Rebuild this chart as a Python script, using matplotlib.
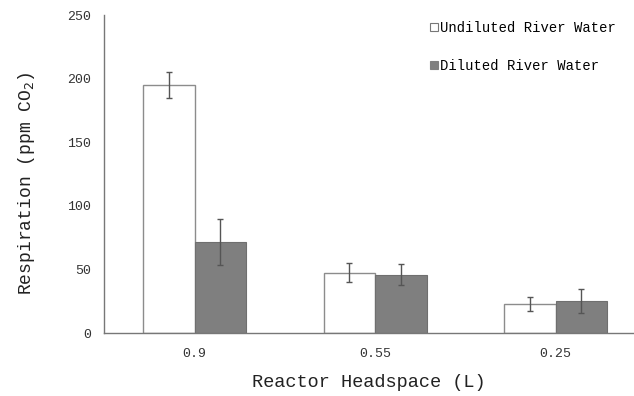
import numpy as np
import matplotlib.pyplot as plt
from matplotlib.patches import Patch

# headspace volumes and respiration means / error
headspace = ['0.9', '0.55', '0.25']
undiluted = [195, 47.5, 23]
undiluted_err = [10, 7.5, 5.5]
diluted = [71.5, 46, 25]
diluted_err = [18, 8.5, 9.5]

plt.rcParams['font.family'] = ['Liberation Mono', 'DejaVu Sans']

fig = plt.figure(figsize=(6.34, 3.96), dpi=100)
ax = fig.add_axes([0.164, 0.159, 0.836, 0.803])

x = np.arange(len(headspace))
w = 0.285
err_kw = dict(ecolor='#555555', elinewidth=1.0, capsize=2.5, capthick=1.0)
ax.bar(x - w / 2, undiluted, w, yerr=undiluted_err, color='white',
       edgecolor='#8c8c8c', linewidth=1.0, error_kw=err_kw)
ax.bar(x + w / 2, diluted, w, yerr=diluted_err, color='#7f7f7f',
       edgecolor='#6f6f6f', linewidth=0.8, error_kw=err_kw)

ax.set_xlim(-0.5025, 2.434)
ax.set_ylim(0, 250)
ax.set_yticks(range(0, 251, 50))
ax.set_xticks(x)
ax.set_xticklabels(headspace)
ax.tick_params(length=0, labelsize=9.5, colors='#333333')
ax.tick_params(axis='y', pad=9)
ax.tick_params(axis='x', pad=11)

for s in ['top', 'right']:
    ax.spines[s].set_visible(False)
for s in ['left', 'bottom']:
    ax.spines[s].set_color('#777777')
    ax.spines[s].set_linewidth(1.0)

ax.set_xlabel('Reactor Headspace (L)', fontsize=13.4, color='#222222', labelpad=10)
ax.set_ylabel('Respiration (ppm CO$_2$)', fontsize=13, color='#222222')
ax.yaxis.set_label_coords(-0.127, 0.47)

handles = [Patch(facecolor='white', edgecolor='#777777', linewidth=0.8),
           Patch(facecolor='#7f7f7f', edgecolor='#7f7f7f', linewidth=0.8)]
fig.legend(handles, ['Undiluted River Water', 'Diluted River Water'],
           loc='upper left', bbox_to_anchor=(0.67, 0.962), frameon=False,
           fontsize=10, handlelength=0.55, handleheight=0.55,
           handletextpad=0.15, labelspacing=1.75, borderaxespad=0)

fig.savefig('out.png', dpi=100)
